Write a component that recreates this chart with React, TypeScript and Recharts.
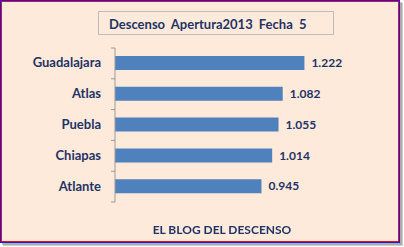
import React from 'react';
import { BarChart, Bar, XAxis, YAxis, LabelList } from 'recharts';

const teams = ['Guadalajara', 'Atlas', 'Puebla', 'Chiapas', 'Atlante'];
const averages = [1.222, 1.082, 1.055, 1.014, 0.945];

const data = teams.map((name, i) => ({ name, value: averages[i] }));

const textColor = '#1F3366';
const font = 'Lato, "DejaVu Sans", sans-serif';

const W = 404;
const H = 247;
const margin = { top: 48, right: 72, bottom: 45, left: 0 };
const band = (H - margin.top - margin.bottom) / teams.length;

const TeamTick = (props: any) => {
  const { x, y, payload, index } = props;
  const axisX = x + 8;
  return (
    <g>
      <text x={x - 6} y={y} dy={4} textAnchor="end" fill={textColor} fontSize={13} fontWeight={700} fontFamily={font}>
        {payload.value}
      </text>
      <line x1={axisX - 4} x2={axisX} y1={y - band / 2} y2={y - band / 2} stroke="#9a9a9a" />
      {index === teams.length - 1 && (
        <line x1={axisX - 4} x2={axisX} y1={y + band / 2} y2={y + band / 2} stroke="#9a9a9a" />
      )}
    </g>
  );
};

export default function App() {
  return (
    <div style={{ position: 'fixed', left: 0, top: 0, width: W, height: H, fontFamily: font, background: '#fff' }}>
      {/* drop shadow */}
      <div style={{ position: 'absolute', left: 3, top: 3, width: 400, height: 243, background: '#a8a8a8', opacity: 0.55 }} />
      <div style={{ position: 'absolute', left: 2, top: 2, width: 400, height: 243, background: '#8a8a8a', opacity: 0.5 }} />
      <div
        style={{
          position: 'absolute',
          left: 0,
          top: 0,
          width: 400,
          height: 243,
          border: '1px solid #1A1AD8',
          boxSizing: 'border-box',
          background: '#1A1AD8',
        }}
      >
        <div
          style={{
            width: 398,
            height: 241,
            border: '1px solid #E0141E',
            boxSizing: 'border-box',
            background: '#FDEADA',
          }}
        />
      </div>
      <div
        style={{
          position: 'absolute',
          left: 98,
          top: 11,
          width: 236,
          height: 24,
          border: '1px solid #BDBDBD',
          background: '#FDEADA',
          color: textColor,
          fontWeight: 700,
          fontSize: 13,
          lineHeight: '24px',
          paddingLeft: 10,
          boxSizing: 'border-box',
          wordSpacing: 3,
        }}
      >
        Descenso Apertura2013 Fecha 5
      </div>
      <div style={{ position: 'absolute', left: 0, top: 0 }}>
        <BarChart width={W} height={H} data={data} layout="vertical" margin={margin}>
          <XAxis type="number" domain={[0, 1.4]} hide />
          <YAxis
            type="category"
            dataKey="name"
            width={115}
            tickLine={false}
            axisLine={{ stroke: '#9a9a9a' }}
            tick={<TeamTick />}
          />
          <Bar dataKey="value" fill="#4F81BD" barSize={14} isAnimationActive={false}>
            <LabelList
              dataKey="value"
              position="right"
              offset={7}
              formatter={(v: any) => Number(v).toFixed(3)}
              fill={textColor}
              fontSize={12}
              fontWeight={700}
              fontFamily={font}
            />
          </Bar>
        </BarChart>
      </div>
      <div
        style={{
          position: 'absolute',
          left: 0,
          width: 444,
          top: 222,
          textAlign: 'center',
          color: textColor,
          fontWeight: 700,
          fontSize: 12,
        }}
      >
        EL BLOG DEL DESCENSO
      </div>
    </div>
  );
}
